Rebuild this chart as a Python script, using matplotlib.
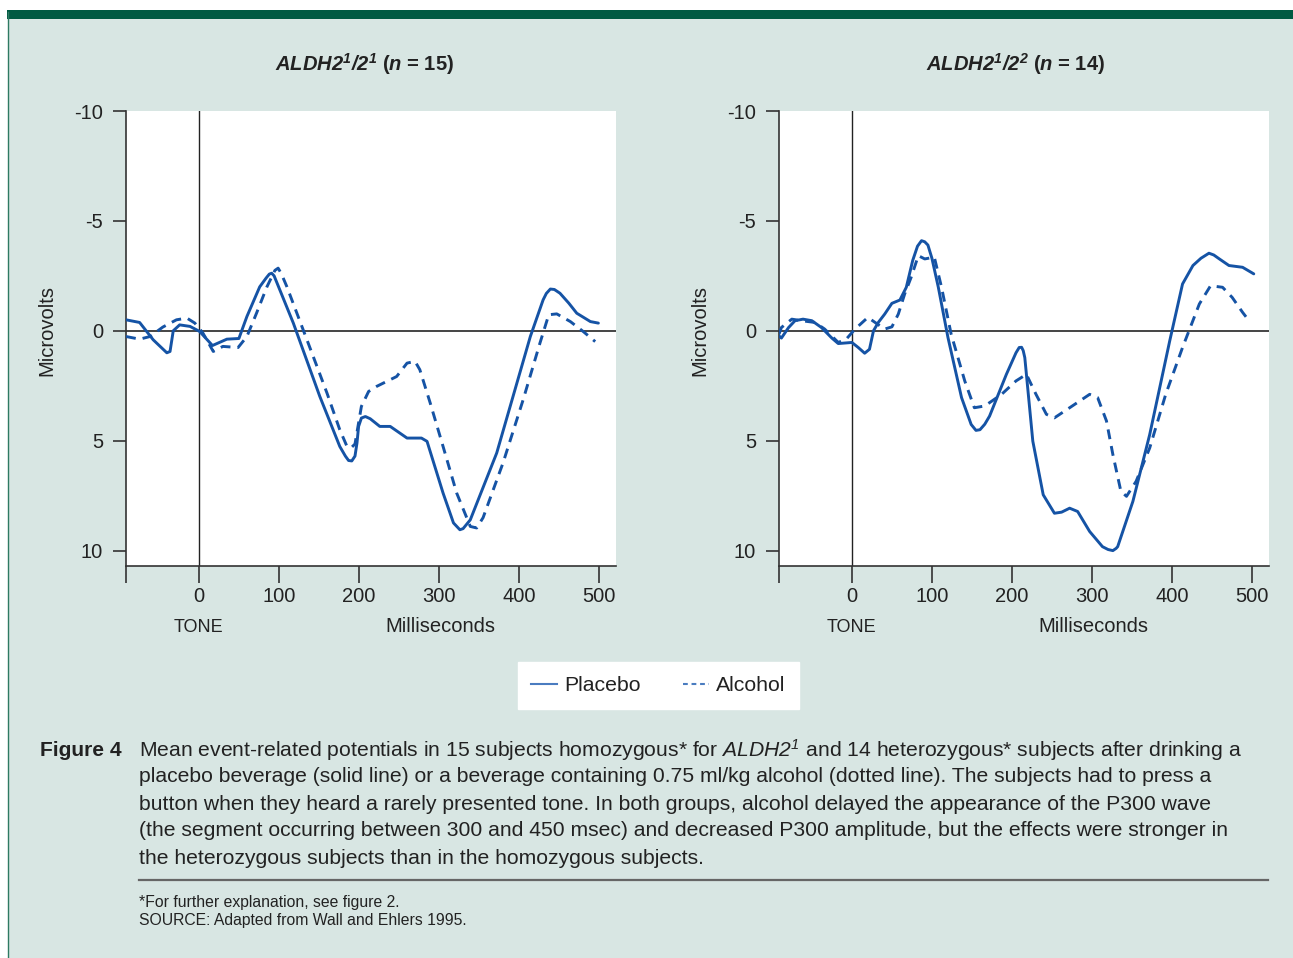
import matplotlib
matplotlib.use("Agg")
import matplotlib.pyplot as plt
from matplotlib.patches import Rectangle
from matplotlib.lines import Line2D

plt.rcParams['font.family'] = ['Liberation Sans', 'DejaVu Sans']
plt.rcParams['mathtext.fontset'] = 'custom'
plt.rcParams['mathtext.rm'] = 'Liberation Sans'
plt.rcParams['mathtext.it'] = 'Liberation Sans:italic'
plt.rcParams['mathtext.sf'] = 'Liberation Sans:italic'
plt.rcParams['mathtext.bf'] = 'Liberation Sans:bold:italic'

# ---------------- data ----------------
p1_placebo_ms = [-91, -74, -57, -40, -36, -32, -24, -11, 1, 17, 35, 50, 60, 76, 84, 88, 91, 94, 118, 151, 176,
                 183, 187, 191, 195, 197.5, 199.5, 203, 208, 214, 226, 239, 260, 278, 285, 305, 318, 326, 330, 339,
                 372, 414, 430, 434, 439, 444, 451, 462, 472, 489, 499]
p1_placebo_uv = [-0.5, -0.38, 0.41, 1.0, 0.94, 0.0, -0.27, -0.2, 0.03, 0.67, 0.38, 0.35, -0.65, -2.0, -2.4, -2.58,
                 -2.62, -2.5, -0.35, 2.98, 5.26, 5.7, 5.9, 5.92, 5.7, 5.1, 4.35, 3.97, 3.9, 4.0, 4.35, 4.35, 4.88,
                 4.88, 5.03, 7.38, 8.74, 9.05, 9.0, 8.6, 5.56, 0.26, -1.41, -1.7, -1.9, -1.88, -1.71, -1.26, -0.8,
                 -0.42, -0.35]

p1_alcohol_ms = [-91, -74, -61, -45, -28, -15, -5, 5, 18, 30, 49, 60, 72, 85, 95, 99, 103, 110, 135, 160, 176, 185,
                 190, 195, 203, 212, 222, 247, 260, 270, 276, 289, 305, 322, 339, 347, 355, 380, 405, 426, 437, 447,
                 464, 480, 495]
p1_alcohol_uv = [0.26, 0.38, 0.26, -0.17, -0.5, -0.58, -0.35, 0.1, 0.94, 0.71, 0.76, 0.26, -0.8, -2.0, -2.75,
                 -2.85, -2.6, -2.0, 0.41, 2.83, 4.5, 5.26, 5.33, 5.15, 3.44, 2.76, 2.53, 2.08, 1.47, 1.39, 1.77, 3.29,
                 5.26, 7.38, 8.9, 8.97, 8.5, 6.0, 3.14, 0.56, -0.73, -0.77, -0.42, 0.03, 0.49]

p2_placebo_ms = [-91, -88, -79, -71, -61, -50, -38, -25, -17, 0, 8, 16, 22, 27, 33, 41, 50, 60, 68, 76, 82, 87,
                 91, 95, 100, 108, 120, 137, 149, 155, 160, 166, 172, 193, 205, 209, 212, 214, 216, 226, 239, 253,
                 262, 272, 282, 297, 313, 320, 326, 330, 332, 351, 372, 397, 413, 426, 436, 446, 452, 459, 471,
                 488, 502]
p2_placebo_uv = [0.23, 0.33, -0.15, -0.46, -0.53, -0.46, -0.15, 0.33, 0.58, 0.53, 0.76, 1.02, 0.84, 0.0, -0.38,
                 -0.76, -1.25, -1.4, -1.98, -3.2, -3.85, -4.1, -4.05, -3.9, -3.3, -1.98, 0.3, 3.04, 4.26, 4.53,
                 4.5, 4.25, 3.88, 1.98, 1.0, 0.76, 0.75, 0.9, 1.22, 5.02, 7.46, 8.3, 8.25, 8.07, 8.22, 9.13, 9.82,
                 9.95, 10.0, 9.9, 9.82, 7.76, 4.72, 0.46, -2.13, -2.97, -3.3, -3.53, -3.45, -3.27, -2.97, -2.89,
                 -2.59]

p2_alcohol_ms = [-91, -88, -75, -63, -46, -34, -17, -7, 4, 20, 29, 41, 50, 58, 66, 74, 83, 91, 103, 112, 124, 141,
                 153, 166, 187, 205, 218, 230, 243, 253, 272, 297, 307, 318, 326, 336, 343, 355, 372, 392, 413, 434,
                 448, 463, 475, 488, 496]
p2_alcohol_uv = [0.15, -0.15, -0.53, -0.46, -0.38, -0.08, 0.53, 0.38, -0.08, -0.61, -0.38, -0.08, -0.18, -0.76,
                 -1.68, -2.43, -3.42, -3.27, -3.35, -1.98, 0.15, 2.28, 3.5, 3.42, 2.89, 2.28, 1.98, 2.89, 3.8, 3.96,
                 3.5, 2.89, 3.04, 4.1, 5.63, 7.3, 7.53, 6.85, 5.33, 2.89, 0.76, -1.22, -2.05, -1.98, -1.52, -0.84,
                 -0.46]

x_ticks = [-91, 0, 100, 200, 300, 400, 500]
x_ticklabels = ['', '0', '100', '200', '300', '400', '500']
y_ticks = [-10, -5, 0, 5, 10]
y_ticklabels = ['-10', '-5', '0', '5', '10']

titles = [r'$\mathbf{ALDH2^1/2^1}$ ($\mathbf{n}$ = 15)', r'$\mathbf{ALDH2^1/2^2}$ ($\mathbf{n}$ = 14)']
legend_labels = ['Placebo', 'Alcohol']

caption_lines = [
    r'Mean event-related potentials in 15 subjects homozygous* for $\mathsf{ALDH2^1}$ and 14 heterozygous* subjects after drinking a',
    'placebo beverage (solid line) or a beverage containing 0.75 ml/kg alcohol (dotted line). The subjects had to press a',
    'button when they heard a rarely presented tone. In both groups, alcohol delayed the appearance of the P300 wave',
    '(the segment occurring between 300 and 450 msec) and decreased P300 amplitude, but the effects were stronger in',
    'the heterozygous subjects than in the homozygous subjects.',
]
footnotes = ['*For further explanation, see figure 2.', 'SOURCE: Adapted from Wall and Ehlers 1995.']

# ---------------- figure ----------------
W, H = 1293, 958
fig = plt.figure(figsize=(W / 100, H / 100), dpi=100)
fig.patch.set_facecolor('white')

def fx(px):
    return px / W

def fy(py):
    return 1 - py / H

bg = '#d8e6e3'
fig.patches.append(Rectangle((fx(8), 0), 1 - fx(8), fy(19), transform=fig.transFigure,
                             facecolor=bg, edgecolor='none', zorder=-10))
fig.patches.append(Rectangle((fx(7), fy(19)), 1 - fx(7), fy(10) - fy(19), transform=fig.transFigure,
                             facecolor='#005a42', edgecolor='none', zorder=-10))
fig.add_artist(Line2D([fx(7.5), fx(7.5)], [0, fy(12)], color='#2e7a62', lw=1.0, transform=fig.transFigure,
                      zorder=-5))

line_color = '#1553a5'
panels = [
    (126, p1_placebo_ms, p1_placebo_uv, p1_alcohol_ms, p1_alcohol_uv, 365, titles[0]),
    (779, p2_placebo_ms, p2_placebo_uv, p2_alcohol_ms, p2_alcohol_uv, 1016, titles[1]),
]
for left_px, pms, puv, ams, auv, tx, title in panels:
    ax = fig.add_axes([fx(left_px), fy(566), 490 / W, (566 - 111) / H])
    ax.set_zorder(1)
    ax.set_facecolor('white')
    ax.plot(pms, puv, color=line_color, lw=2.1, solid_capstyle='round', solid_joinstyle='round', zorder=3)
    ax.plot(ams, auv, color=line_color, lw=2.1, linestyle=(0, (3.4, 2.4)), zorder=3)
    ax.axhline(0, color='#444444', lw=1.4, zorder=2)
    ax.axvline(0, color='#222222', lw=1.0, zorder=2)
    ax.set_xlim(-91, 521)
    ax.set_ylim(10.7, -10)
    ax.set_xticks(x_ticks)
    ax.set_xticklabels(x_ticklabels)
    ax.set_yticks(y_ticks)
    ax.set_yticklabels(y_ticklabels)
    for s in ['top', 'right']:
        ax.spines[s].set_visible(False)
    for s in ['left', 'bottom']:
        ax.spines[s].set_color('#333333')
        ax.spines[s].set_linewidth(1.2)
    ax.tick_params(axis='x', direction='out', length=12, width=1.2, color='#333333', pad=3,
                   labelsize=14.5, labelcolor='#222222')
    ax.tick_params(axis='y', direction='out', length=9.5, width=1.2, color='#333333', pad=7,
                   labelsize=14.5, labelcolor='#222222')
    ax.set_ylabel('Microvolts', fontsize=14.5, color='#222222')
    ax.yaxis.set_label_coords(-79 / 490, (566 - 330) / 455)
    ax.yaxis.label.set_va('center')
    ax.set_xlabel('Milliseconds', fontsize=14.5, color='#222222')
    ax.xaxis.set_label_coords(0.641, -(627 - 566) / 455)
    ax.xaxis.label.set_va('center')
    ax.text(0, -(627 - 566) / 455, 'TONE', transform=ax.get_xaxis_transform(), ha='center', va='center',
            fontsize=13, color='#222222')
    fig.text(fx(tx), fy(64), title, ha='center', va='center', fontsize=14.5, fontweight='bold', color='#222222')

# legend
handles = [Line2D([], [], color='#4a7cc0', lw=1.5),
           Line2D([], [], color='#4a7cc0', lw=1.5, linestyle=(0, (2.3, 1.8)))]
leg = fig.legend(handles, legend_labels, loc='center', bbox_to_anchor=(fx(658.5), fy(685.5)), ncol=2,
                 frameon=True, fancybox=False, facecolor='white', edgecolor='white', framealpha=1,
                 fontsize=15.3, handlelength=1.2, handletextpad=0.35, columnspacing=2.0, borderpad=0.65)
for t in leg.get_texts():
    t.set_color('#222222')

# caption
fig.text(fx(40), fy(750), 'Figure 4', fontsize=15.1, fontweight='bold', ha='left', va='center', color='#222222')
for i, line in enumerate(caption_lines):
    fig.text(fx(139), fy(750 + 27 * i), line, fontsize=15.2, ha='left', va='center', color='#222222')

fig.add_artist(Line2D([fx(139), fx(1268)], [fy(880), fy(880)], color='#666666', lw=1.6,
                      transform=fig.transFigure))
fig.text(fx(139), fy(903), footnotes[0], fontsize=11.3, ha='left', va='center', color='#222222')
fig.text(fx(139), fy(921), footnotes[1], fontsize=11.3, ha='left', va='center', color='#222222')

fig.savefig('out.png', dpi=100, facecolor=fig.get_facecolor())
